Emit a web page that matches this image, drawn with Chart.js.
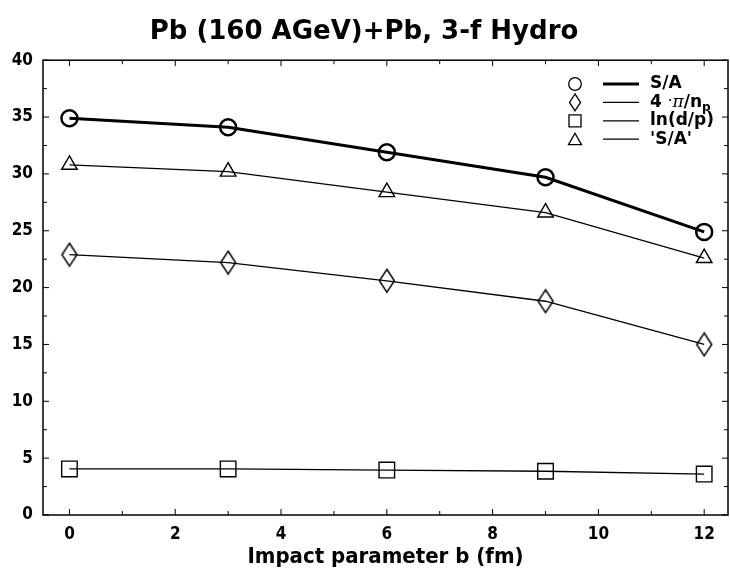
<!DOCTYPE html>
<html>
<head>
<meta charset="utf-8">
<script src="https://cdn.jsdelivr.net/npm/chart.js@4.4.0/dist/chart.umd.min.js"></script>
<style>
  html, body { margin: 0; padding: 0; background: #fff; }
  #wrap { width: 730px; height: 577px; }
</style>
</head>
<body>
<div id="wrap"><canvas id="myChart"></canvas></div>
<script>
// impact parameter b (fm)
const bValues = [0, 3, 6, 9, 12];
// series
const sA = [34.9, 34.1, 31.9, 29.7, 24.9];
const fourPiNp = [22.9, 22.2, 20.6, 18.8, 15.0];
const lnDP = [4.05, 4.05, 3.95, 3.85, 3.6];
const sAQuoted = [30.8, 30.2, 28.4, 26.6, 22.6];

const yTicks = [0, 5, 10, 15, 20, 25, 30, 35, 40];
const xTicks = [0, 2, 4, 6, 8, 10, 12];

const FONT = "'DejaVu Sans Condensed', 'DejaVu Sans', sans-serif";
const LFONT = "'DejaVu Sans', sans-serif";

function pts(ys) {
  return bValues.map((b, i) => ({x: b, y: ys[i]}));
}

// tall open diamond marker
function makeDiamond() {
  const c = document.createElement('canvas');
  c.width = 18; c.height = 26;
  const g = c.getContext('2d');
  g.strokeStyle = '#000';
  g.lineWidth = 1.5;
  g.beginPath();
  g.moveTo(9, 1.5); g.lineTo(16.5, 13); g.lineTo(9, 24.5); g.lineTo(1.5, 13);
  g.closePath();
  g.stroke();
  return c;
}
const diamond = makeDiamond();

// inward ticks on all four sides + frame + legend
const frame = {
  id: 'frame',
  afterDraw(chart) {
    const ctx = chart.ctx;
    const a = chart.chartArea;
    const xs = chart.scales.x, ys = chart.scales.y;
    ctx.save();
    ctx.strokeStyle = '#000';
    ctx.lineWidth = 1.5;
    ctx.strokeRect(a.left, a.top, a.right - a.left, a.bottom - a.top);
    ctx.lineWidth = 1;
    ctx.beginPath();
    for (let v = 0; v <= 40; v += 2.5) {
      const y = ys.getPixelForValue(v);
      const len = v % 5 === 0 ? 6 : 4;
      ctx.moveTo(a.left, y); ctx.lineTo(a.left + len, y);
      ctx.moveTo(a.right, y); ctx.lineTo(a.right - len, y);
    }
    for (let v = 0; v <= 12; v += 1) {
      const x = xs.getPixelForValue(v);
      const len = v % 2 === 0 ? 6 : 4;
      ctx.moveTo(x, a.bottom); ctx.lineTo(x, a.bottom - len);
      ctx.moveTo(x, a.top); ctx.lineTo(x, a.top + len);
    }
    ctx.stroke();

    // legend
    const rows = [
      {style: 'circle', w: 3},
      {style: 'diamond', w: 1.2},
      {style: 'rect', w: 1.2},
      {style: 'triangle', w: 1.2}
    ];
    const mx = 575, lx0 = 603, lx1 = 639, tx = 650;
    let y = 84;
    rows.forEach((r, i) => {
      ctx.lineWidth = 1.3;
      ctx.beginPath();
      if (r.style === 'circle') {
        ctx.arc(mx, y, 6.3, 0, Math.PI * 2);
      } else if (r.style === 'rect') {
        ctx.rect(mx - 6, y - 6, 12, 12);
      } else if (r.style === 'triangle') {
        ctx.moveTo(mx, y - 6); ctx.lineTo(mx + 6.5, y + 5.5); ctx.lineTo(mx - 6.5, y + 5.5); ctx.closePath();
      } else {
        ctx.moveTo(mx, y - 8.5); ctx.lineTo(mx + 5.5, y); ctx.lineTo(mx, y + 8.5); ctx.lineTo(mx - 5.5, y); ctx.closePath();
      }
      ctx.stroke();
      ctx.lineWidth = r.w;
      ctx.beginPath();
      ctx.moveTo(lx0, y); ctx.lineTo(lx1, y);
      ctx.stroke();
      ctx.fillStyle = '#000';
      ctx.textBaseline = 'middle';
      ctx.textAlign = 'left';
      ctx.font = "bold 17px " + LFONT;
      if (i === 0) ctx.fillText('S/A', tx, y);
      if (i === 1) {
        let x = tx;
        ctx.fillText('4 ', x, y); x += ctx.measureText('4 ').width;
        ctx.font = "15px " + LFONT;
        ctx.fillText('\u00b7', x, y); x += ctx.measureText('\u00b7').width;
        ctx.font = "italic 17px 'DejaVu Serif', serif";
        ctx.fillText('\u03c0', x, y); x += ctx.measureText('\u03c0').width;
        ctx.font = "bold 17px " + LFONT;
        ctx.fillText('/n', x, y); x += ctx.measureText('/n').width;
        ctx.font = "bold 12px " + LFONT;
        ctx.fillText('p', x, y + 5);
      }
      if (i === 2) ctx.fillText('ln(d/p)', tx, y);
      if (i === 3) ctx.fillText("'S/A'", tx, y);
      y += 18.4;
    });
    ctx.restore();
  }
};

new Chart('myChart', {
  type: 'scatter',
  data: {
    datasets: [
      {label: 'S/A', data: pts(sA), showLine: true, borderColor: '#000', borderWidth: 3,
       pointStyle: 'circle', pointRadius: 8, pointBorderWidth: 2.5, pointBackgroundColor: 'rgba(0,0,0,0)', pointBorderColor: '#000'},
      {label: '4 pi/np', data: pts(fourPiNp), showLine: true, borderColor: '#000', borderWidth: 1.3,
       pointStyle: diamond, pointRadius: 10},
      {label: 'ln(d/p)', data: pts(lnDP), showLine: true, borderColor: '#000', borderWidth: 1.3,
       pointStyle: 'rect', pointRadius: 11, pointBorderWidth: 1.4, pointBackgroundColor: 'rgba(0,0,0,0)', pointBorderColor: '#000'},
      {label: "'S/A'", data: pts(sAQuoted), showLine: true, borderColor: '#000', borderWidth: 1.3,
       pointStyle: 'triangle', pointRadius: 9, pointBorderWidth: 1.4, pointBackgroundColor: 'rgba(0,0,0,0)', pointBorderColor: '#000'}
    ]
  },
  options: {
    responsive: true,
    maintainAspectRatio: false,
    animation: false,
    layout: {autoPadding: false, padding: {top: 0, right: 2, bottom: 7, left: 0}},
    plugins: {
      legend: {display: false},
      tooltip: {enabled: false},
      title: {
        display: true,
        text: 'Pb (160 AGeV)+Pb, 3-f Hydro',
        color: '#000',
        font: {family: "'DejaVu Sans', sans-serif", size: 26, weight: 'bold'},
        padding: {top: 17, bottom: 12}
      }
    },
    scales: {
      x: {
        type: 'linear', min: -0.5, max: 12.45,
        afterBuildTicks: s => { s.ticks = xTicks.map(v => ({value: v})); },
        afterFit: s => { s.height = 55; s.paddingLeft = 0; s.paddingRight = 0; },
        grid: {display: false, drawTicks: false},
        border: {display: false},
        ticks: {color: '#000', padding: 9, font: {family: FONT, size: 17, weight: 'bold'}},
        title: {display: true, text: 'Impact parameter b (fm)', color: '#000', padding: {top: 0, bottom: 0},
                font: {family: FONT, size: 22, weight: 'bold'}}
      },
      y: {
        type: 'linear', min: 0, max: 40,
        afterBuildTicks: s => { s.ticks = yTicks.map(v => ({value: v})); },
        afterFit: s => { s.width = 43; s.paddingTop = 0; s.paddingBottom = 0; },
        grid: {display: false, drawTicks: false},
        border: {display: false},
        ticks: {color: '#000', padding: 10, font: {family: FONT, size: 17, weight: 'bold'}}
      }
    }
  },
  plugins: [frame]
});
</script>
</body>
</html>
